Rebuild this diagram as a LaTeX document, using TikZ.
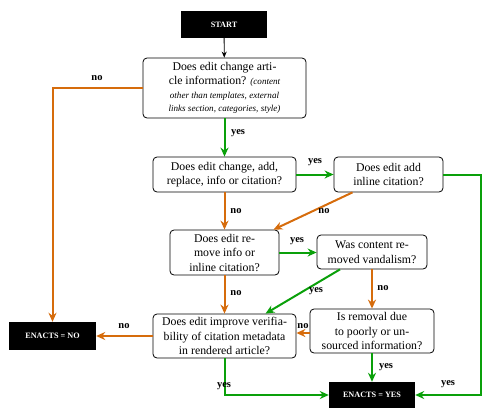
\documentclass[tikz,border=0pt]{standalone}
\usepackage{fontspec}
\setmainfont{Liberation Serif}
\usetikzlibrary{arrows.meta,calc}
\definecolor{noc}{RGB}{214,108,12}
\definecolor{yesc}{RGB}{10,160,10}
\tikzset{
  qbox/.style={draw=black, line width=0.8pt, rounded corners=4pt, fill=white, align=center, inner sep=0pt, font=\fontsize{11.8}{14.5}\selectfont},
  endbox/.style={fill=black, text=white, inner sep=0pt, font=\bfseries\fontsize{8.2}{9}\selectfont},
  noarrow/.style={draw=noc, line width=2pt, -{Stealth[length=9pt,width=8pt]}},
  yesarrow/.style={draw=yesc, line width=2pt, -{Stealth[length=9pt,width=8pt]}},
  lbl/.style={font=\bfseries\fontsize{10.5}{12}\selectfont, inner sep=0pt}
}
\begin{document}
\begin{tikzpicture}[x=1pt,y=-1pt]
\useasboundingbox (0,0) rectangle (483,408);
\node[endbox, minimum width=86pt, minimum height=27pt] (S) at (224,24.5) {START};
\node[qbox, minimum width=163pt, minimum height=60pt] (Q1) at (224.5,88)
  {Does edit change arti-\\cle information? {\itshape\fontsize{9.1}{10}\selectfont (content}\\[-1pt]
   {\itshape\fontsize{9.1}{10}\selectfont other than templates, external}\\[-1pt]
   {\itshape\fontsize{9.1}{10}\selectfont links section, categories, style)}};
\node[qbox, minimum width=143pt, minimum height=35pt] (Q2) at (224.5,174.5)
  {Does edit change, add,\\replace, info or citation?};
\node[qbox, minimum width=109pt, minimum height=35pt] (Q3) at (388.5,174.5)
  {Does edit add\\inline citation?};
\node[qbox, minimum width=109pt, minimum height=45pt] (Q4) at (224.5,252.5)
  {Does edit re-\\move info or\\inline citation?};
\node[qbox, minimum width=110pt, minimum height=34pt] (Q5) at (372,252)
  {Was content re-\\moved vandalism?};
\node[qbox, minimum width=124pt, minimum height=44pt] (Q6) at (372,331)
  {Is removal due\\to poorly or un-\\sourced information?};
\node[qbox, minimum width=143pt, minimum height=44pt] (Q7) at (224.5,336)
  {Does edit improve verifia-\\bility of citation metadata\\in rendered article?};
\node[endbox, minimum width=87pt, minimum height=28pt] (EN) at (52.5,336) {ENACTS = NO};
\node[endbox, minimum width=86pt, minimum height=26pt] (EY) at (372,395) {ENACTS = YES};
\coordinate (c1) at (481,395);
\coordinate (c2) at ($(Q6.west)+(0,2)$);
\coordinate (c3) at (Q7.east |- c2);

\draw[line width=0.8pt, -{Stealth[length=6pt,width=5pt]}] (S) -- (Q1);
\draw[noarrow] (Q1.west) -| (EN.north);
\draw[yesarrow] (Q1) -- (Q2);
\draw[yesarrow] (Q2) -- (Q3);
\draw[yesarrow] (Q3.east) -| (c1) -- (EY.east);
\draw[noarrow] (Q2) -- (Q4);
\draw[noarrow] ($(Q3.south)+(-36,0)$) -- ($(Q4.north)+(49,0)$);
\draw[yesarrow] (Q4.east) -- (Q4.east -| Q5.west);
\draw[yesarrow] ($(Q5.south)+(-32,0)$) -- ($(Q7.north)+(41,0)$);
\draw[noarrow] (Q5) -- (Q6);
\draw[noarrow] (Q4) -- (Q7);
\draw[noarrow] (c2) -- (c3);
\draw[noarrow] (Q7.west) -- (Q7.west -| EN.east);
\draw[yesarrow] (Q6) -- (EY);
\draw[yesarrow] (Q7.south) |- (EY.west);

\node[lbl] (l1) at (97,78) {no};
\node[lbl] (l2) at (238,133) {yes};
\node[lbl] (l3) at (315,162) {yes};
\node[lbl] (l4) at (448,384) {yes};
\node[lbl] (l5) at (236,211) {no};
\node[lbl] (l6) at (324,211) {no};
\node[lbl] (l7) at (297,241) {yes};
\node[lbl] (l8) at (316,291) {yes};
\node[lbl] (l9) at (383,288) {no};
\node[lbl] (l10) at (236,293) {no};
\node[lbl] (l11) at (303,326) {no};
\node[lbl] (l12) at (124,326) {no};
\node[lbl] (l13) at (386,367) {yes};
\node[lbl] (l14) at (224,386) {yes};
\end{tikzpicture}
\end{document}
